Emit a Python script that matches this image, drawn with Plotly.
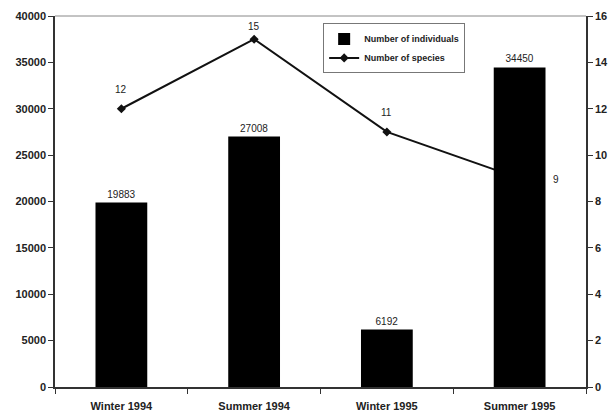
import plotly.graph_objects as go

categories = ["Winter 1994", "Summer 1994", "Winter 1995", "Summer 1995"]
individuals = [19883, 27008, 6192, 34450]
species = [12, 15, 11, 9]

font_family = "Liberation Sans, Arial, sans-serif"

fig = go.Figure()

fig.add_trace(go.Scatter(
    x=categories, y=species, name="Number of species",
    mode="lines+markers",
    line=dict(color="#111111", width=2),
    marker=dict(symbol="diamond", size=7, color="#111111"),
    yaxis="y", legendrank=2, cliponaxis=False,
))

fig.add_trace(go.Bar(
    x=categories, y=individuals, name="Number of individuals",
    marker=dict(color="#000000", line=dict(width=0)),
    width=0.39,
    text=[str(v) for v in individuals],
    textposition="outside",
    textfont=dict(family=font_family, size=10, color="#222222"),
    yaxis="y2", legendrank=1, cliponaxis=False,
))

# species value labels (drawn above the bars)
annotations = []
for i, (c, v) in enumerate(zip(categories, species)):
    last = i == len(species) - 1
    annotations.append(dict(
        x=c, y=v, xref="x", yref="y", text=str(v), showarrow=False,
        font=dict(family=font_family, size=10, color="#222222"),
        xanchor="left" if last else "center",
        yanchor="middle" if last else "bottom",
        xshift=31 if last else 0,
        yshift=-1 if last else (5 if v == max(species) else 12),
    ))

tickfont = dict(family=font_family, size=11, color="#222222", weight="bold")

fig.update_layout(
    width=614, height=419,
    margin=dict(l=55, r=28, t=16, b=32, autoexpand=False),
    paper_bgcolor="white", plot_bgcolor="white",
    font=dict(family=font_family, color="#222222"),
    showlegend=True,
    legend=dict(
        x=0.505, y=0.98, xanchor="left", yanchor="top",
        bgcolor="white", bordercolor="#777777", borderwidth=1,
        font=dict(family=font_family, size=9, color="#222222", weight="bold"),
        tracegroupgap=0, itemwidth=30,
    ),
    xaxis=dict(
        type="category", showgrid=False, showline=True, linecolor="#333333",
        linewidth=1.5, ticks="outside", tickson="boundaries", ticklen=5,
        tickcolor="#333333", ticklabelstandoff=8,
        tickfont=dict(family=font_family, size=11, color="#222222", weight="bold"),
        zeroline=False, automargin=False,
    ),
    yaxis=dict(
        side="right", range=[0, 16], dtick=2, showgrid=False, showline=True,
        linecolor="#333333", linewidth=1.5, ticks="outside", ticklen=5,
        tickcolor="#333333", tickfont=tickfont, zeroline=False, automargin=False,
    ),
    yaxis2=dict(
        side="left", overlaying="y", range=[0, 40000], dtick=5000, showgrid=False,
        showline=True, linecolor="#333333", linewidth=1.5, ticks="outside",
        ticklen=5, tickcolor="#333333", tickfont=tickfont, zeroline=False,
        tickformat="d", automargin=False,
    ),
    annotations=annotations,
    shapes=[dict(type="line", xref="paper", yref="paper", x0=0, x1=1, y0=1, y1=1,
                 line=dict(color="#888888", width=1))],
)

fig.write_html(
    "out.html",
    config={"displayModeBar": False},
    post_script="document.body.style.margin='0';document.body.style.overflow='hidden';",
)
